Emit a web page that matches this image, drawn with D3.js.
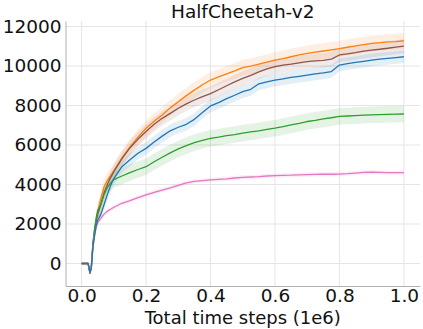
<!DOCTYPE html>
<html>
<head>
<meta charset="utf-8">
<script src="https://cdn.jsdelivr.net/npm/d3@7"></script>
<style>
  body { margin: 0; background: #fff; }
  svg { display: block; font-family: "DejaVu Sans", sans-serif; }
  .grid-line { stroke: #e5e5e5; stroke-width: 1; }
  .axis path { stroke: #b0b0b0; }
  .axis line { display: none; }
  .axis text { font-size: 18.5px; fill: #111; font-family: "DejaVu Sans", sans-serif; }
</style>
</head>
<body>
<svg id="chart" width="423" height="329" viewBox="0 0 423 329"></svg>
<script>
const title = "HalfCheetah-v2";
const xLabel = "Total time steps (1e6)";
const xTickValues = [0, 0.2, 0.4, 0.6, 0.8, 1.0];
const yTickValues = [0, 2000, 4000, 6000, 8000, 10000, 12000];

const steps = [0, 0.01, 0.02, 0.026, 0.03, 0.035, 0.04, 0.045, 0.05, 0.06, 0.07, 0.08, 0.09,
  0.1, 0.125, 0.15, 0.175, 0.2, 0.225, 0.25, 0.275, 0.3, 0.325, 0.35, 0.375,
  0.4, 0.425, 0.45, 0.475, 0.5, 0.525, 0.55, 0.575, 0.6, 0.625, 0.65, 0.675, 0.7, 0.725, 0.75,
  0.775, 0.8, 0.825, 0.85, 0.875, 0.9, 0.925, 0.95, 0.975, 1.0];

const blueValues = [0, 0, 0, -480, -250, 800, 1400, 1900, 2200, 2500, 3000, 3500, 3950,
  4300, 4900, 5250, 5580, 5830, 6150, 6450, 6720, 6900, 7050, 7300, 7650,
  7980, 8150, 8350, 8520, 8700, 8820, 9100, 9200, 9290, 9350, 9420, 9480, 9540, 9600, 9650,
  9720, 10050, 10120, 10180, 10240, 10300, 10350, 10390, 10430, 10470];
const orangeValues = [0, 0, 0, -480, -200, 1000, 1700, 2200, 2600, 3300, 3900, 4200, 4450,
  4700, 5350, 5900, 6400, 6850, 7200, 7520, 7880, 8190, 8500, 8780, 9050,
  9290, 9450, 9600, 9750, 9920, 10000, 10100, 10200, 10300, 10380, 10470, 10560, 10640, 10700, 10760,
  10820, 10880, 10950, 11020, 11080, 11150, 11180, 11220, 11240, 11280];
const greenValues = [0, 0, 0, -480, -200, 1000, 1700, 2300, 2700, 3000, 3500, 3850, 4080,
  4250, 4430, 4600, 4760, 4900, 5150, 5380, 5600, 5800, 5970, 6120, 6240,
  6340, 6400, 6470, 6530, 6600, 6660, 6720, 6790, 6850, 6930, 7020, 7100, 7190, 7250, 7320,
  7380, 7450, 7470, 7490, 7510, 7530, 7540, 7550, 7560, 7570];
const brownValues = [0, 0, 0, -480, -200, 900, 1600, 2100, 2500, 3000, 3600, 4000, 4350,
  4650, 5300, 5850, 6300, 6680, 7050, 7350, 7600, 7860, 8080, 8280, 8450,
  8600, 8800, 9000, 9200, 9370, 9530, 9700, 9850, 9970, 10050, 10100, 10160, 10220, 10260, 10290,
  10350, 10560, 10620, 10680, 10750, 10810, 10850, 10900, 10960, 11010];
const pinkValues = [0, 0, 0, -480, -200, 800, 1400, 1800, 2100, 2300, 2500, 2650, 2750,
  2850, 3050, 3180, 3330, 3470, 3600, 3720, 3830, 3950, 4080, 4160, 4200,
  4230, 4260, 4290, 4330, 4360, 4380, 4400, 4430, 4450, 4460, 4470, 4490, 4500, 4510, 4520,
  4520, 4530, 4550, 4580, 4610, 4620, 4610, 4600, 4600, 4600];

// half width of the shaded band for each run
const bandSpread = { blue: 320, orange: 400, green: 420, brown: 360, pink: 110 };

const seriesList = [
  { name: "orange", color: "#ff7f0e", values: orangeValues },
  { name: "brown", color: "#8c564b", values: brownValues },
  { name: "green", color: "#2ca02c", values: greenValues },
  { name: "pink", color: "#e377c2", values: pinkValues },
  { name: "blue", color: "#1f77b4", values: blueValues }
];

function renderChart(svg) {
  const root = d3.select(svg);
  const width = svg.viewBox.baseVal.width;
  const height = svg.viewBox.baseVal.height;
  const margin = { top: 21, right: 3, bottom: 43, left: 65.5 };

  const xScale = d3.scaleLinear()
    .domain([-0.05, 1.05])
    .range([margin.left, width - margin.right]);
  const yScale = d3.scaleLinear()
    .domain([-1140, 12280])
    .range([height - margin.bottom, margin.top]);

  root.append("g")
    .selectAll("line")
    .data(yTickValues)
    .join("line")
    .attr("class", "grid-line")
    .attr("x1", margin.left)
    .attr("x2", width - margin.right)
    .attr("y1", tick => yScale(tick))
    .attr("y2", tick => yScale(tick));

  root.append("g")
    .selectAll("line")
    .data(xTickValues)
    .join("line")
    .attr("class", "grid-line")
    .attr("x1", tick => xScale(tick))
    .attr("x2", tick => xScale(tick))
    .attr("y1", margin.top)
    .attr("y2", height - margin.bottom);

  // the band only opens up once training is under way
  const area = d3.area()
    .defined(point => point.x >= 0.05)
    .x(point => xScale(point.x))
    .y0(point => yScale(point.y - point.spread))
    .y1(point => yScale(point.y + point.spread));
  const line = d3.line()
    .x(point => xScale(point.x))
    .y(point => yScale(point.y));

  const pointsOf = series => steps.map((x, index) => ({
    x,
    y: series.values[index],
    spread: bandSpread[series.name]
  }));

  root.append("g")
    .selectAll("path")
    .data(seriesList)
    .join("path")
    .attr("d", series => area(pointsOf(series)))
    .attr("fill", series => series.color)
    .attr("fill-opacity", 0.12)
    .attr("stroke", "none");

  root.append("g")
    .selectAll("path")
    .data(seriesList)
    .join("path")
    .attr("d", series => line(pointsOf(series)))
    .attr("fill", "none")
    .attr("stroke", series => series.color)
    .attr("stroke-width", 1.3)
    .attr("stroke-linejoin", "round");

  root.append("g")
    .attr("class", "axis axis-x")
    .attr("transform", `translate(0, ${height - margin.bottom})`)
    .call(d3.axisBottom(xScale)
      .tickValues(xTickValues)
      .tickFormat(d3.format(".1f"))
      .tickSize(0)
      .tickPadding(3)
      .tickSizeOuter(0));

  root.append("g")
    .attr("class", "axis axis-y")
    .attr("transform", `translate(${margin.left}, 0)`)
    .call(d3.axisLeft(yScale)
      .tickValues(yTickValues)
      .tickFormat(d3.format("d"))
      .tickSize(0)
      .tickPadding(4)
      .tickSizeOuter(0));

  root.append("text")
    .attr("x", (margin.left + width - margin.right) / 2)
    .attr("y", 17.5)
    .attr("text-anchor", "middle")
    .attr("font-size", "18.5px")
    .attr("fill", "#111")
    .text(title);

  root.append("text")
    .attr("x", (margin.left + width - margin.right) / 2)
    .attr("y", 324)
    .attr("text-anchor", "middle")
    .attr("font-size", "18px")
    .attr("fill", "#111")
    .text(xLabel);
}

renderChart(document.getElementById("chart"));
</script>
</body>
</html>
